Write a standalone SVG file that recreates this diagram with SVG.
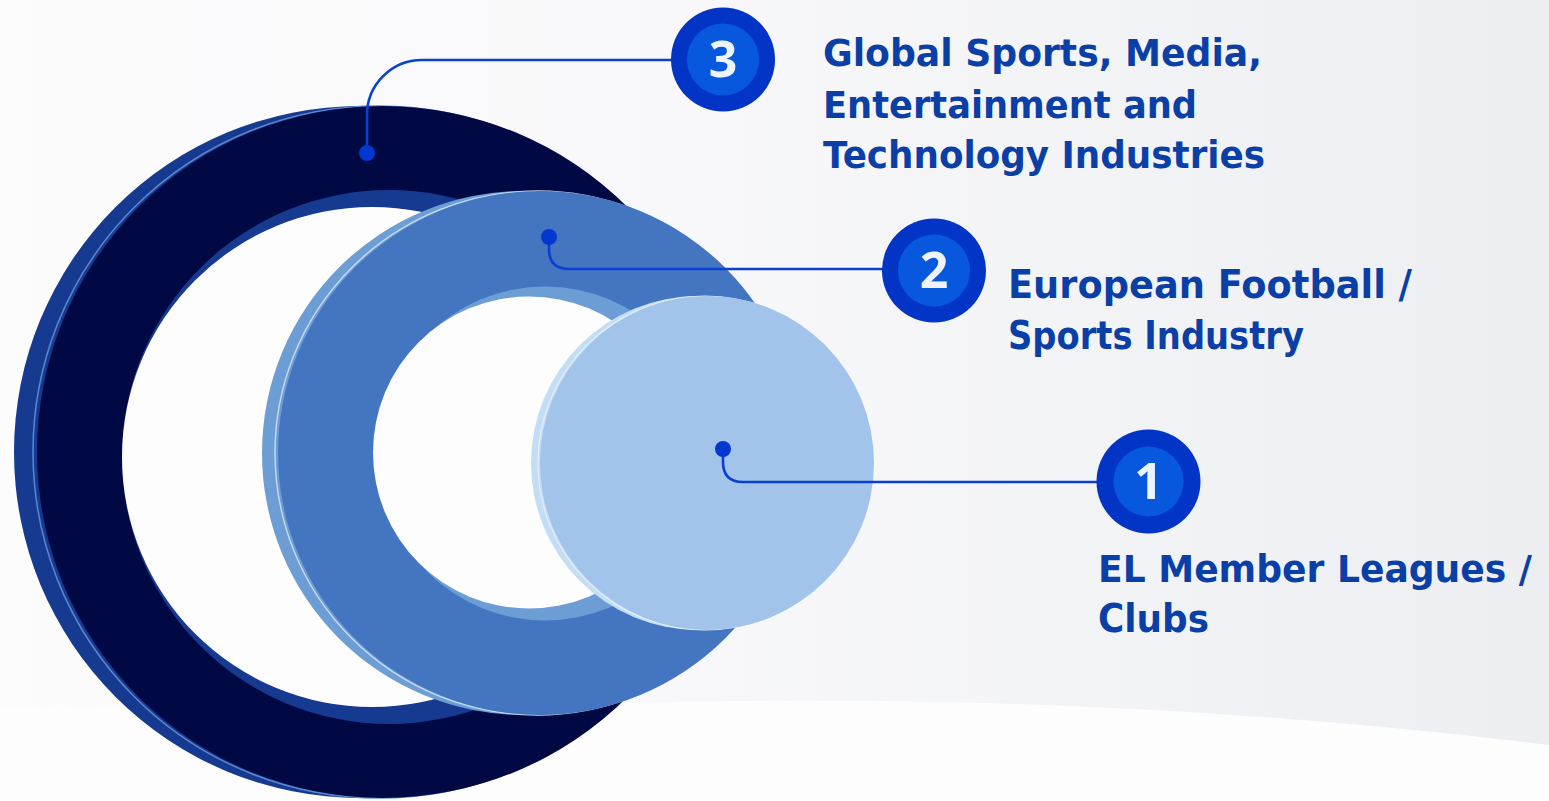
<svg xmlns="http://www.w3.org/2000/svg" width="1549" height="801" viewBox="0 0 1549 801">
  <defs>
    <linearGradient id="bg" x1="0" y1="0" x2="1" y2="0">
      <stop offset="0" stop-color="#fcfcfd"/>
      <stop offset="0.45" stop-color="#f8f8fa"/>
      <stop offset="1" stop-color="#eceef1"/>
    </linearGradient>
    <style>
      .lbl { font-family: "DejaVu Sans", "Liberation Sans", sans-serif; font-weight: 700; fill: #0b3fa8; }
      .num { font-family: "Noto Sans", "DejaVu Sans", sans-serif; font-weight: 700; font-size: 50px; fill: #eef4ff; text-anchor: middle; }
      .badge-out { fill: #0235c6; }
      .badge-in { fill: #0858dd; }
      .conn { fill: none; stroke: #0a40d2; stroke-width: 2.6; stroke-linecap: round; }
      .dot { fill: #0337cf; }
    </style>
  </defs>

  <!-- background -->
  <rect width="1549" height="801" fill="url(#bg)"/>
  <path d="M0,706 L620,703 Q1100,690 1549,745 L1549,801 L0,801 Z" fill="#fdfdfd"/>

  <!-- outer ring: Global -->
  <g id="ring-3">
    <circle cx="360" cy="452" r="346" fill="#163a8f"/>
    <circle cx="379" cy="452" r="346" fill="none" stroke="#5d86cc" stroke-width="1.5"/>
    <circle cx="383" cy="452" r="346" fill="#010945"/>
    <circle cx="389" cy="457" r="267" fill="#163a8f"/>
    <circle cx="372" cy="457" r="250" fill="#fdfdfd"/>
  </g>

  <!-- middle ring: European football -->
  <g id="ring-2">
    <circle cx="524" cy="453" r="262" fill="#6c9dd5"/>
    <circle cx="537" cy="453" r="262" fill="none" stroke="#c6dbf3" stroke-width="1.4"/>
    <circle cx="540" cy="453" r="262" fill="#4475c0"/>
    <circle cx="545" cy="453.5" r="167" fill="#6c9dd5"/>
    <circle cx="529" cy="452.5" r="156" fill="#fdfdfd"/>
  </g>

  <!-- inner disc: EL members -->
  <g id="ring-1">
    <circle cx="698" cy="463" r="167" fill="#c3ddf5"/>
    <circle cx="705" cy="463" r="167" fill="none" stroke="#e3eefa" stroke-width="1.2"/>
    <circle cx="707" cy="463" r="167" fill="#a2c4ea"/>
  </g>

  <!-- connectors -->
  <g id="connectors">
    <path class="conn" d="M367,153 L367,115 A55,55 0 0 1 422,60 L672,60"/>
    <path class="conn" d="M549,237 L549,249 Q549,269 569,269 L884,269"/>
    <path class="conn" d="M723,449 L723,462 Q723,482 743,482 L1098,482"/>
    <circle class="dot" cx="367" cy="153" r="8"/>
    <circle class="dot" cx="549" cy="237" r="8"/>
    <circle class="dot" cx="723" cy="449" r="8"/>
  </g>

  <!-- node 3 -->
  <g id="node-3">
    <circle class="badge-out" cx="723" cy="59.5" r="52"/>
    <circle class="badge-in" cx="723" cy="59.5" r="36"/>
    <text class="num" x="723" y="77">3</text>
    <text class="lbl" font-size="37" x="823" y="66" textLength="439" lengthAdjust="spacingAndGlyphs">Global Sports, Media,</text>
    <text class="lbl" font-size="37" x="823" y="118" textLength="374" lengthAdjust="spacingAndGlyphs">Entertainment and</text>
    <text class="lbl" font-size="37" x="823" y="168" textLength="442" lengthAdjust="spacingAndGlyphs">Technology Industries</text>
  </g>

  <!-- node 2 -->
  <g id="node-2">
    <circle class="badge-out" cx="934" cy="270.5" r="52"/>
    <circle class="badge-in" cx="934" cy="270.5" r="36"/>
    <text class="num" x="934" y="288">2</text>
    <text class="lbl" font-size="39" x="1008" y="297.5" textLength="404" lengthAdjust="spacingAndGlyphs">European Football /</text>
    <text class="lbl" font-size="39" x="1008" y="348.5" textLength="296" lengthAdjust="spacingAndGlyphs">Sports Industry</text>
  </g>

  <!-- node 1 -->
  <g id="node-1">
    <circle class="badge-out" cx="1148.5" cy="481.5" r="52"/>
    <circle class="badge-in" cx="1148.5" cy="481.5" r="35"/>
    <text class="num" x="1148.5" y="499">1</text>
    <text class="lbl" font-size="37" x="1098" y="582" textLength="434" lengthAdjust="spacingAndGlyphs">EL Member Leagues /</text>
    <text class="lbl" font-size="39" x="1098" y="632" textLength="111" lengthAdjust="spacingAndGlyphs">Clubs</text>
  </g>
</svg>
